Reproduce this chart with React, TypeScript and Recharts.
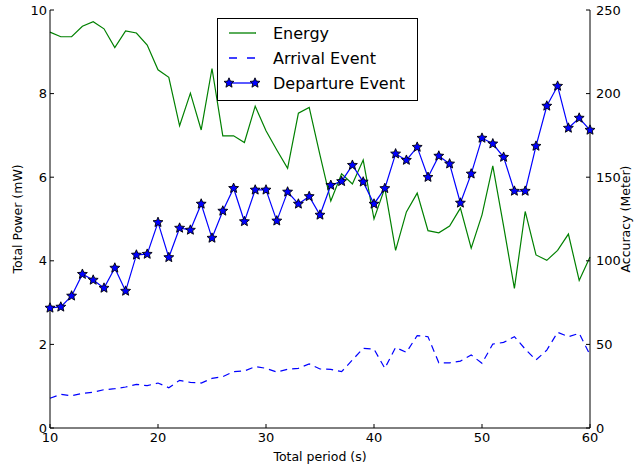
import React from 'react';
import { LineChart, Line, XAxis, YAxis } from 'recharts';

const periods = [10, 11, 12, 13, 14, 15, 16, 17, 18, 19, 20, 21, 22, 23, 24, 25, 26, 27, 28, 29, 30, 31, 32, 33, 34, 35, 36, 37, 38, 39, 40, 41, 42, 43, 44, 45, 46, 47, 48, 49, 50, 51, 52, 53, 54, 55, 56, 57, 58, 59, 60];

const energy = [9.47, 9.36, 9.36, 9.61, 9.72, 9.55, 9.1, 9.5, 9.45, 9.16, 8.57, 8.39, 7.23, 8.01, 7.13, 8.6, 6.99, 6.99, 6.83, 7.7, 7.11, 6.65, 6.21, 7.53, 7.67, 6.53, 5.43, 6.08, 5.84, 6.41, 5.0, 5.74, 4.25, 5.17, 5.62, 4.72, 4.67, 4.83, 5.26, 4.3, 5.1, 6.27, 4.83, 3.34, 5.18, 4.14, 4.01, 4.25, 4.64, 3.53, 4.09];

const arrival = [17.8, 20.1, 19.3, 20.7, 21.4, 22.9, 23.5, 24.5, 26.1, 25.3, 26.9, 24.1, 28.5, 27.3, 26.9, 29.7, 30.7, 33.7, 34.1, 36.7, 35.7, 33.5, 35.1, 35.7, 38.3, 35.3, 35.1, 33.7, 40.7, 47.7, 47.2, 35.7, 48.2, 45.2, 55.3, 54.6, 39.0, 39.0, 40.0, 43.7, 38.7, 50.2, 51.2, 54.6, 47.2, 40.7, 46.6, 57.2, 54.6, 56.6, 43.7];

const departure = [71.8, 72.4, 79.0, 92.0, 88.5, 83.7, 95.7, 81.9, 103.5, 104.0, 123.0, 102.0, 119.6, 118.4, 134.0, 113.6, 129.8, 143.4, 123.5, 142.4, 142.4, 123.9, 141.2, 134.0, 138.5, 127.4, 145.2, 147.5, 157.2, 147.2, 134.0, 143.3, 164.0, 160.2, 168.0, 150.0, 162.7, 158.0, 134.6, 152.0, 173.4, 170.0, 162.0, 141.7, 141.7, 168.6, 192.6, 204.5, 179.4, 185.4, 178.2];

const xTicks = [10, 20, 30, 40, 50, 60];
const powerTicks = [0, 2, 4, 6, 8, 10];
const accuracyTicks = [0, 50, 100, 150, 200, 250];

const data = periods.map((p, i) => ({
  period: p,
  energy: energy[i],
  arrival: arrival[i],
  departure: departure[i],
}));

const FONT = '"DejaVu Sans", sans-serif';
const tickStyle = { fill: '#000', fontSize: 13, fontFamily: FONT };
const labelStyle = { fill: '#000', fontSize: 12.5, fontFamily: FONT };

const starPath = (cx: number, cy: number, r: number) => {
  const pts: string[] = [];
  for (let k = 0; k < 10; k++) {
    const rad = k % 2 === 0 ? r : r * 0.45;
    const a = -Math.PI / 2 + (k * Math.PI) / 5;
    pts.push(`${(cx + rad * Math.cos(a)).toFixed(2)},${(cy + rad * Math.sin(a)).toFixed(2)}`);
  }
  return `M${pts.join('L')}Z`;
};

const StarDot = (props: any) => {
  const { cx, cy, index } = props;
  if (cx == null || cy == null) return <g key={index} />;
  return <path key={index} d={starPath(cx, cy, 5.2)} fill="#0000ff" stroke="#000" strokeWidth={0.9} />;
};

const LegendBox = () => (
  <div
    style={{
      position: 'absolute',
      left: 217,
      top: 18,
      width: 199,
      height: 81,
      border: '1px solid #000',
      background: '#fff',
    }}
  >
    <svg width={199} height={81} style={{ position: 'absolute', left: 0, top: 0 }} fontFamily={FONT}>
      <line x1={11} x2={38} y1={14} y2={14} stroke="#008000" strokeWidth={1.3} />
      <line x1={11} x2={38} y1={39} y2={39} stroke="#0000ff" strokeWidth={1.3} strokeDasharray="8 10" />
      <line x1={11} x2={37} y1={64} y2={64} stroke="#0000ff" strokeWidth={1.3} />
      <path d={starPath(11, 64, 5.2)} fill="#0000ff" stroke="#000" strokeWidth={0.9} />
      <path d={starPath(37, 64, 5.2)} fill="#0000ff" stroke="#000" strokeWidth={0.9} />
      <text x={55} y={20} fontSize={16} fill="#000">Energy</text>
      <text x={55} y={45} fontSize={16} fill="#000">Arrival Event</text>
      <text x={55} y={70} fontSize={16} fill="#000">Departure Event</text>
    </svg>
  </div>
);

export default function App() {
  return (
    <div style={{ position: 'absolute', left: 0, top: 0, width: 638, height: 468, background: '#fff' }}>
      <LineChart width={638} height={468} data={data} margin={{ top: 10, right: 0, bottom: 0, left: 0 }}>
        <XAxis
          dataKey="period"
          type="number"
          domain={[10, 60]}
          ticks={xTicks}
          height={40}
          stroke="#000"
          tickSize={-4}
          tickMargin={9}
          tick={tickStyle}
          label={{ value: 'Total period (s)', position: 'center', dy: 9, ...labelStyle }}
        />
        <XAxis
          xAxisId="top"
          orientation="top"
          type="number"
          domain={[10, 60]}
          ticks={xTicks}
          height={0}
          stroke="#000"
          tickSize={-4}
          tick={() => <g />}
        />
        <YAxis
          yAxisId="left"
          domain={[0, 10]}
          ticks={powerTicks}
          width={50}
          stroke="#000"
          tickSize={-4}
          tickMargin={7}
          tick={tickStyle}
          label={{ value: 'Total Power (mW)', angle: -90, position: 'center', dx: -7, ...labelStyle }}
        />
        <YAxis
          yAxisId="right"
          orientation="right"
          domain={[0, 250]}
          ticks={accuracyTicks}
          width={48}
          stroke="#000"
          tickSize={-4}
          tickMargin={10}
          tick={tickStyle}
          label={{ value: 'Accuracy (Meter)', angle: -90, position: 'center', dx: 12, ...labelStyle }}
        />
        <Line
          yAxisId="left"
          dataKey="energy"
          name="Energy"
          stroke="#008000"
          strokeWidth={1.2}
          dot={false}
          activeDot={false}
          isAnimationActive={false}
        />
        <Line
          yAxisId="right"
          dataKey="arrival"
          name="Arrival Event"
          stroke="#0000ff"
          strokeWidth={1.2}
          strokeDasharray="7 5"
          dot={false}
          activeDot={false}
          isAnimationActive={false}
        />
        <Line
          yAxisId="right"
          dataKey="departure"
          name="Departure Event"
          stroke="#0000ff"
          strokeWidth={1.2}
          dot={StarDot}
          activeDot={false}
          isAnimationActive={false}
        />
      </LineChart>
      <LegendBox />
    </div>
  );
}
